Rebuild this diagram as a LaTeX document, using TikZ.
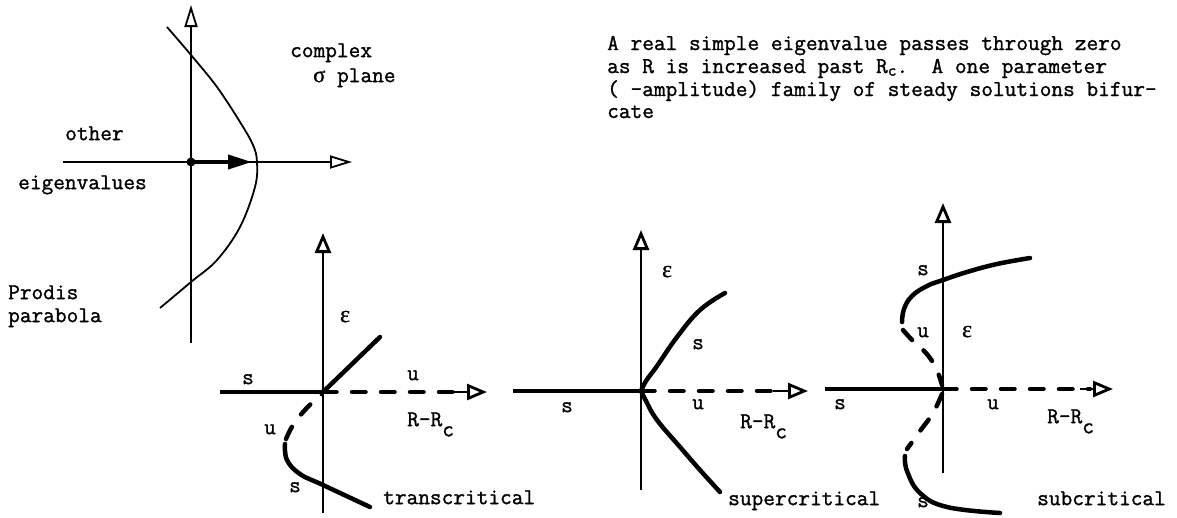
\documentclass[tikz,border=0pt]{standalone}
\usepackage{fontspec}
\setmonofont{Latin Modern Mono}[FakeBold=1.2]
\newfontfamily\grk{Liberation Serif}[FakeBold=0.8]
\usetikzlibrary{arrows.meta}
\begin{document}
\begin{tikzpicture}[x=1pt,y=-1pt,
  lbl/.style={font=\fontsize{22.7}{23}\selectfont\ttfamily, inner sep=0pt},
  desc/.style={lbl, text height=14pt, text depth=4pt},
  gk/.style={font=\fontsize{24}{24}\selectfont\grk, inner sep=0pt},
  thinax/.style={line width=1.8pt},
  axis/.style={line width=2.8pt},
  branch/.style={line width=4.5pt, line cap=round},
  dashbranch/.style={line width=4.5pt, line cap=round, dash pattern=on 13.5pt off 15.5pt},
  openhead/.style={-{Triangle[open, length=20pt, width=16pt]}},
  smallopen/.style={-{Triangle[open, length=22pt, width=13pt]}},
  curve/.style={line width=1.8pt}
]
\useasboundingbox (0,0) rectangle (1177,517);

% ---------- complex sigma plane ----------
\coordinate (O1) at (191,162);
\coordinate (v1b) at (191,343);
\coordinate (v1t) at (191,5);
\coordinate (h1l) at (63,162);
\coordinate (h1r) at (352,162);
\coordinate (vtx) at (252,162);
\draw[thinax, smallopen] (v1b) -- (v1t);
\draw[thinax, smallopen] (h1l) -- (h1r);
\draw[line width=4pt, -{Triangle[length=24pt, width=14pt]}] (O1) -- (vtx);
\fill (O1) circle (4.5pt);
\draw[curve] plot[smooth, tension=0.6] coordinates {(167,27) (191,55) (217,87) (240,122) (253,145) (257,162) (255,187) (240,227) (217,260) (191,282) (160,308)};

\node[lbl, anchor=mid west] (complex) at (290,55) {complex};
\node[lbl, anchor=mid west] (plane) at (313,80) {{\grk σ} plane};
\node[lbl, anchor=mid west] (other) at (65,138) {other};
\node[lbl, anchor=mid west] (eigen) at (18,187) {eigenvalues};
\node[lbl, anchor=mid west] (prodis) at (8,297) {Prodis};
\node[lbl, anchor=mid west] (parab) at (8,320) {parabola};

% ---------- description ----------
\node[desc, anchor=base west] (d1) at (607,50) {A real simple eigenvalue passes through zero};
\node[desc, anchor=base west] (d2) at (607,73) {as R is increased past R\raisebox{-0.12em}{\fontsize{17}{17}\selectfont c}.\ \ A one parameter};
\node[desc, anchor=base west] (d3) at (607,96) {( -amplitude) family of steady solutions bifur-};
\node[desc, anchor=base west] (d4) at (607,118) {cate};

% ---------- transcritical ----------
\coordinate (O2) at (323,392);
\coordinate (v2b) at (323,513);
\coordinate (v2t) at (323,233);
\coordinate (h2l) at (220,392);
\coordinate (h2d) at (462,392);
\coordinate (h2a) at (452,392);
\coordinate (h2r) at (487,392);
\draw[axis, openhead] (v2b) -- (v2t);
\draw[line width=4.5pt] (h2l) -- (O2);
\draw[dashbranch] (O2) -- (h2d);
\draw[axis, openhead] (h2a) -- (h2r);
\draw[branch] (O2) -- (380,337);
\draw[branch] plot[smooth, tension=0.7] coordinates {(285,444) (287,460) (300,474) (323,485) (370,507)};
\draw[dashbranch] plot[smooth, tension=0.7] coordinates {(286,439) (293,425) (304,411) (315,400) (322,394)};

\node[gk, anchor=mid] (eps2) at (345,320) {ε};
\node[lbl, anchor=mid] (s2a) at (248,382) {s};
\node[lbl, anchor=mid] (u2a) at (413,378) {u};
\node[lbl, anchor=mid west] (r2) at (407,424) {R-R\raisebox{-0.45em}{c}};
\node[lbl, anchor=mid] (u2b) at (270,432) {u};
\node[lbl, anchor=mid] (s2b) at (295,490) {s};
\node[lbl, anchor=mid west] (trans) at (383,502) {transcritical};

% ---------- supercritical ----------
\coordinate (O3) at (641,391);
\coordinate (v3b) at (641,490);
\coordinate (v3t) at (641,230);
\coordinate (h3l) at (513,391);
\coordinate (h3d) at (783,391);
\coordinate (h3a) at (773,391);
\coordinate (h3r) at (808,391);
\draw[axis, openhead] (v3b) -- (v3t);
\draw[line width=4.5pt] (h3l) -- (O3);
\draw[dashbranch] (O3) -- (h3d);
\draw[axis, openhead] (h3a) -- (h3r);
\draw[branch] plot[smooth, tension=0.7] coordinates {(641,391) (646,381) (657,366) (677,337) (700,310) (725,293)};
\draw[branch] plot[smooth, tension=0.7] coordinates {(641,391) (646,401) (657,420) (680,447) (700,470) (720,492)};

\node[gk, anchor=mid] (eps3) at (667,275) {ε};
\node[lbl, anchor=mid] (s3a) at (698,347) {s};
\node[lbl, anchor=mid] (s3b) at (567,410) {s};
\node[lbl, anchor=mid] (u3) at (698,407) {u};
\node[lbl, anchor=mid west] (r3) at (740,426) {R-R\raisebox{-0.45em}{c}};
\node[lbl, anchor=mid west] (super) at (728,503) {supercritical};

% ---------- subcritical ----------
\coordinate (O4) at (943,389);
\coordinate (v4b) at (943,473);
\coordinate (v4t) at (943,203);
\coordinate (h4l) at (825,389);
\coordinate (h4d) at (1090,389);
\coordinate (h4a) at (1080,389);
\coordinate (h4r) at (1113,389);
\draw[axis, openhead] (v4b) -- (v4t);
\draw[line width=4.5pt] (h4l) -- (O4);
\draw[dashbranch] (O4) -- (h4d);
\draw[axis, openhead] (h4a) -- (h4r);
\draw[branch] plot[smooth, tension=0.7] coordinates {(902,322) (904,309) (912,296) (927,286) (943,280) (967,272) (997,264) (1030,258)};
\draw[dashbranch] plot[smooth, tension=0.7] coordinates {(903,330) (913,341) (926,353) (936,368) (942,385)};
\draw[dashbranch] plot[smooth, tension=0.7] coordinates {(942,394) (933,413) (920,431) (907,449)};
\draw[branch] plot[smooth, tension=0.7] coordinates {(905,456) (907,471) (920,493) (947,507) (1000,513)};

\node[lbl, anchor=mid] (s4a) at (923,273) {s};
\node[lbl, anchor=mid] (u4a) at (923,335) {u};
\node[gk, anchor=mid] (eps4) at (967,335) {ε};
\node[lbl, anchor=mid] (s4b) at (840,407) {s};
\node[lbl, anchor=mid] (u4b) at (993,407) {u};
\node[lbl, anchor=mid west] (r4) at (1047,421) {R-R\raisebox{-0.45em}{c}};
\node[lbl, anchor=mid] (s4c) at (923,505) {s};
\node[lbl, anchor=mid west] (sub) at (1037,503) {subcritical};
\end{tikzpicture}
\end{document}
